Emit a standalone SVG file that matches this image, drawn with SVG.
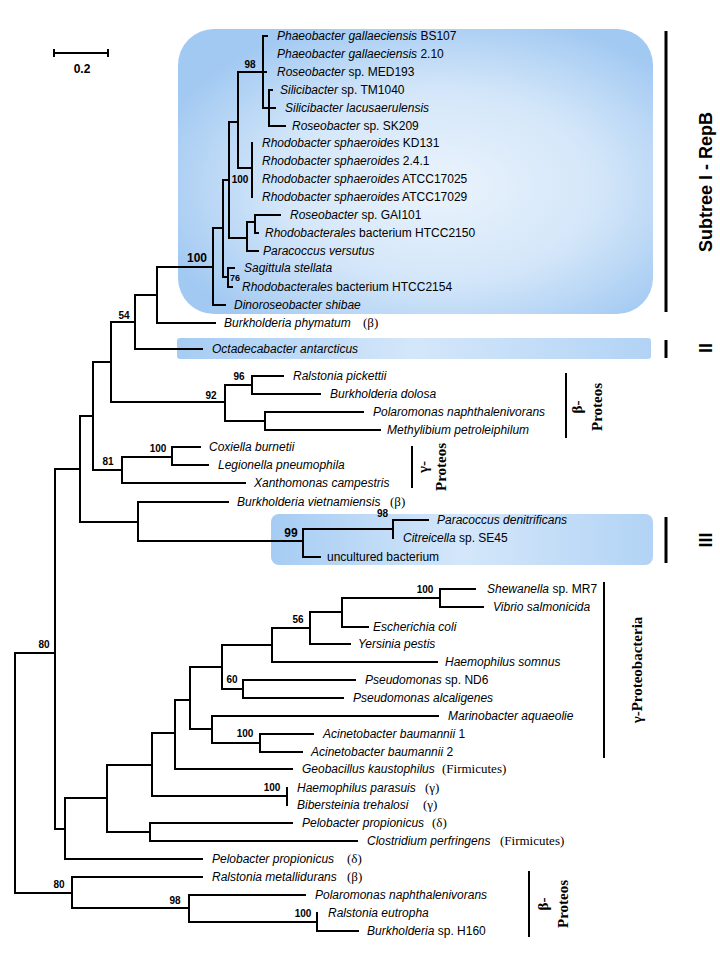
<svg xmlns="http://www.w3.org/2000/svg" width="720" height="960" viewBox="0 0 720 960">
<defs>
<radialGradient id="gI" cx="0.55" cy="0.55" r="0.62">
<stop offset="0" stop-color="#eaf3fc"/><stop offset="0.55" stop-color="#d3e6f9"/><stop offset="1" stop-color="#a2c9f2"/>
</radialGradient>
<linearGradient id="gB" x1="0" y1="0" x2="1" y2="0">
<stop offset="0" stop-color="#a6ccf3"/><stop offset="0.5" stop-color="#d4e7fa"/><stop offset="1" stop-color="#b2d3f5"/>
</linearGradient>
<style>
.t{stroke:#000;stroke-width:2;fill:none;stroke-linecap:square}
.bar{stroke:#000;stroke-width:3;fill:none}
.lb{font-family:"Liberation Sans",Arial,sans-serif;font-size:12px;fill:#000}
.i{font-style:italic}
.p{font-family:"Liberation Serif","Times New Roman",serif;font-size:13px;fill:#000}
.bs{font-family:"Liberation Sans",Arial,sans-serif;font-size:10px;font-weight:bold;fill:#000}
.bb{font-family:"Liberation Sans",Arial,sans-serif;font-size:12px;font-weight:bold;fill:#000}
.grp{font-family:"Liberation Serif","Times New Roman",serif;font-size:15px;font-weight:bold;fill:#000}
.sub{font-family:"Liberation Sans",Arial,sans-serif;font-size:18px;font-weight:bold;fill:#000}
</style>
</defs>
<rect width="720" height="960" fill="#fff"/>

<g id="clade-boxes">
<rect x="178" y="29" width="475" height="285" rx="36" fill="url(#gI)"/>
<rect x="177" y="338" width="474" height="21" rx="3" fill="url(#gB)"/>
<rect x="271" y="514" width="382" height="51" rx="8" fill="url(#gB)"/>
</g>

<g id="scale-bar">
<path class="t" d="M54,53 H108 M54,50 V56 M108,50 V56"/>
<text class="bb" x="82" y="73" text-anchor="middle">0.2</text>
</g>

<g id="connectors">
<path class="t" d="
M15,653 V893 M15,653 H55 M15,893 H72
M55,469 V829 M55,469 H80 M55,829 H65
M80,416 V522 M80,416 H93 M80,522 H138
M93,362 V470 M93,362 H111 M93,470 H122
M111,322 V402 M111,322 H135 M111,402 H225
M135,295 V349 M135,295 H157 M135,349 H202
M157,267 V323 M157,267 H213 M157,323 H215
M213,228 V305 M213,228 H223 M213,305 H225
M223,180 V277 M223,180 H229 M223,277 H228
M229,122 V238 M229,122 H238 M229,238 H247
M238,72 V168 M238,72 H263 M238,168 H252
M263,36 V108 M263,36 H267 M263,72 H266 M263,108 H269
M269,90 V126 M269,90 H272 M269,108 H275 M269,126 H285
M252,143 V197
M247,222 V251 M247,222 H255 M247,251 H258
M255,215 V233 M255,215 H280 M255,233 H258
M228,268 V287 M228,268 H234 M228,287 H232
M225,385 V421 M225,385 H252 M225,421 H265
M252,376 V394 M252,376 H283 M252,394 H320
M265,412 V430 M265,412 H363 M265,430 H380
M122,457 V483 M122,457 H172 M122,483 H245
M172,447 V465 M172,447 H200 M172,465 H208
M138,502 V541 M138,502 H228 M138,541 H303
M303,529 V557 M303,529 H393 M303,557 H320
M393,520 V538 M393,520 H428
M65,798 V859 M65,798 H107 M65,859 H202
M107,765 V832 M107,765 H152 M107,832 H150
M150,823 V841 M150,823 H292 M150,841 H357
M152,733 V796 M152,733 H175 M152,796 H287
M287,788 V805
M175,700 V769 M175,700 H190 M175,769 H292
M190,667 V729 M190,667 H222 M190,729 H212
M222,645 V689 M222,645 H272 M222,689 H243
M272,628 V662 M272,628 H310 M272,662 H437
M310,612 V644 M310,612 H342 M310,644 H350
M342,598 V627 M342,598 H440 M342,627 H368
M440,589 V607 M440,589 H475 M440,607 H483
M243,680 V698 M243,680 H355 M243,698 H343
M212,716 V743 M212,716 H438 M212,743 H260
M260,734 V752 M260,734 H313 M260,752 H302
M72,877 V908 M72,877 H202 M72,908 H189
M189,895 V922 M189,895 H305 M189,922 H317
M317,913 V931 M317,931 H358"/>
</g>

<g id="support-values">
<text class="bs" x="250" y="68" text-anchor="middle">98</text>
<text class="bs" x="240" y="183" text-anchor="middle">100</text>
<text class="bb" x="197" y="262" text-anchor="middle">100</text>
<text class="bs" x="235" y="281" text-anchor="middle" style="font-size:9px">76</text>
<text class="bs" x="124" y="319" text-anchor="middle">54</text>
<text class="bs" x="239" y="380" text-anchor="middle">96</text>
<text class="bs" x="211" y="399" text-anchor="middle">92</text>
<text class="bs" x="158" y="452" text-anchor="middle">100</text>
<text class="bs" x="108" y="465" text-anchor="middle">81</text>
<text class="bb" x="291" y="537" text-anchor="middle">99</text>
<text class="bs" x="388" y="517" text-anchor="end">98</text>
<text class="bs" x="425" y="593" text-anchor="middle">100</text>
<text class="bs" x="298" y="623" text-anchor="middle">56</text>
<text class="bs" x="232" y="683" text-anchor="middle">60</text>
<text class="bs" x="245" y="737" text-anchor="middle">100</text>
<text class="bs" x="44" y="648" text-anchor="middle">80</text>
<text class="bs" x="272" y="791" text-anchor="middle">100</text>
<text class="bs" x="59" y="888" text-anchor="middle">80</text>
<text class="bs" x="175" y="904" text-anchor="middle">98</text>
<text class="bs" x="303" y="917" text-anchor="middle">100</text>
</g>

<g id="leaves">
<g id="leaf-01"><text class="lb" x="277" y="40"><tspan class="i">Phaeobacter gallaeciensis</tspan> BS107</text></g>
<g id="leaf-02"><text class="lb" x="277" y="58"><tspan class="i">Phaeobacter gallaeciensis</tspan> 2.10</text></g>
<g id="leaf-03"><text class="lb" x="277" y="76"><tspan class="i">Roseobacter</tspan> sp. MED193</text></g>
<g id="leaf-04"><text class="lb" x="280" y="94"><tspan class="i">Silicibacter</tspan> sp. TM1040</text></g>
<g id="leaf-05"><text class="lb i" x="285" y="112">Silicibacter lacusaerulensis</text></g>
<g id="leaf-06"><text class="lb" x="292" y="130"><tspan class="i">Roseobacter</tspan> sp. SK209</text></g>
<g id="leaf-07"><text class="lb" x="262" y="147"><tspan class="i">Rhodobacter sphaeroides</tspan> KD131</text></g>
<g id="leaf-08"><text class="lb" x="262" y="165"><tspan class="i">Rhodobacter sphaeroides</tspan> 2.4.1</text></g>
<g id="leaf-09"><text class="lb" x="262" y="183"><tspan class="i">Rhodobacter sphaeroides</tspan> ATCC17025</text></g>
<g id="leaf-10"><text class="lb" x="262" y="201"><tspan class="i">Rhodobacter sphaeroides</tspan> ATCC17029</text></g>
<g id="leaf-11"><text class="lb" x="290" y="219"><tspan class="i">Roseobacter</tspan> sp. GAI101</text></g>
<g id="leaf-12"><text class="lb" x="265" y="237"><tspan class="i">Rhodobacterales</tspan> bacterium HTCC2150</text></g>
<g id="leaf-13"><text class="lb i" x="263" y="255">Paracoccus versutus</text></g>
<g id="leaf-14"><text class="lb i" x="244" y="272">Sagittula stellata</text></g>
<g id="leaf-15"><text class="lb" x="242" y="291"><tspan class="i">Rhodobacterales</tspan> bacterium HTCC2154</text></g>
<g id="leaf-16"><text class="lb i" x="234" y="309">Dinoroseobacter shibae</text></g>
<g id="leaf-17"><text class="lb i" x="224" y="327">Burkholderia phymatum</text><text class="p" x="363" y="327">(β)</text></g>
<g id="leaf-18"><text class="lb i" x="212" y="353">Octadecabacter antarcticus</text></g>
<g id="leaf-19"><text class="lb i" x="293" y="380">Ralstonia pickettii</text></g>
<g id="leaf-20"><text class="lb i" x="330" y="398">Burkholderia dolosa</text></g>
<g id="leaf-21"><text class="lb i" x="373" y="416">Polaromonas naphthalenivorans</text></g>
<g id="leaf-22"><text class="lb i" x="387" y="434">Methylibium petroleiphilum</text></g>
<g id="leaf-23"><text class="lb i" x="209" y="451">Coxiella burnetii</text></g>
<g id="leaf-24"><text class="lb i" x="218" y="469">Legionella pneumophila</text></g>
<g id="leaf-25"><text class="lb i" x="254" y="487">Xanthomonas campestris</text></g>
<g id="leaf-26"><text class="lb i" x="237" y="506">Burkholderia vietnamiensis</text><text class="p" x="390" y="506">(β)</text></g>
<g id="leaf-27"><text class="lb i" x="437" y="524">Paracoccus denitrificans</text></g>
<g id="leaf-28"><text class="lb" x="403" y="542"><tspan class="i">Citreicella</tspan> sp. SE45</text></g>
<g id="leaf-29"><text class="lb" x="327" y="561">uncultured bacterium</text></g>
<g id="leaf-30"><text class="lb" x="487" y="593"><tspan class="i">Shewanella</tspan> sp. MR7</text></g>
<g id="leaf-31"><text class="lb i" x="493" y="611">Vibrio salmonicida</text></g>
<g id="leaf-32"><text class="lb i" x="373" y="631">Escherichia coli</text></g>
<g id="leaf-33"><text class="lb i" x="358" y="648">Yersinia pestis</text></g>
<g id="leaf-34"><text class="lb i" x="445" y="666">Haemophilus somnus</text></g>
<g id="leaf-35"><text class="lb" x="365" y="684"><tspan class="i">Pseudomonas</tspan> sp. ND6</text></g>
<g id="leaf-36"><text class="lb i" x="353" y="702">Pseudomonas alcaligenes</text></g>
<g id="leaf-37"><text class="lb i" x="448" y="720">Marinobacter aquaeolie</text></g>
<g id="leaf-38"><text class="lb" x="323" y="738"><tspan class="i">Acinetobacter baumannii</tspan> 1</text></g>
<g id="leaf-39"><text class="lb" x="311" y="756"><tspan class="i">Acinetobacter baumannii</tspan> 2</text></g>
<g id="leaf-40"><text class="lb i" x="302" y="773">Geobacillus kaustophilus</text><text class="p" x="442" y="773">(Firmicutes)</text></g>
<g id="leaf-41"><text class="lb i" x="297" y="792">Haemophilus parasuis</text><text class="p" x="425" y="792">(γ)</text></g>
<g id="leaf-42"><text class="lb i" x="297" y="809">Bibersteinia trehalosi</text><text class="p" x="423" y="809">(γ)</text></g>
<g id="leaf-43"><text class="lb i" x="302" y="827">Pelobacter propionicus</text><text class="p" x="432" y="827">(δ)</text></g>
<g id="leaf-44"><text class="lb i" x="367" y="845">Clostridium perfringens</text><text class="p" x="500" y="845">(Firmicutes)</text></g>
<g id="leaf-45"><text class="lb i" x="212" y="863">Pelobacter propionicus</text><text class="p" x="347" y="863">(δ)</text></g>
<g id="leaf-46"><text class="lb i" x="212" y="881">Ralstonia metallidurans</text><text class="p" x="347" y="881">(β)</text></g>
<g id="leaf-47"><text class="lb i" x="315" y="899">Polaromonas naphthalenivorans</text></g>
<g id="leaf-48"><text class="lb i" x="328" y="917">Ralstonia eutropha</text></g>
<g id="leaf-49"><text class="lb" x="367" y="935"><tspan class="i">Burkholderia</tspan> sp. H160</text></g>
</g>

<g id="group-labels">
<path class="bar" d="M666,31 V312 M666,340 V358 M666,517 V563"/>
<text class="sub" transform="translate(712,182) rotate(-90)" text-anchor="middle">Subtree I - RepB</text>
<text class="sub" transform="translate(712,348) rotate(-90)" text-anchor="middle">II</text>
<text class="sub" transform="translate(712,540) rotate(-90)" text-anchor="middle">III</text>
<path class="t" d="M566,374 V437 M412,447 V487 M604,583 V757 M529,872 V936"/>
<text class="grp" transform="translate(582,407) rotate(-90)" text-anchor="middle">β-</text>
<text class="grp" transform="translate(602,407) rotate(-90)" text-anchor="middle">Proteos</text>
<text class="grp" transform="translate(428,467) rotate(-90)" text-anchor="middle">γ-</text>
<text class="grp" transform="translate(446,467) rotate(-90)" text-anchor="middle">Proteos</text>
<text class="grp" transform="translate(642,670) rotate(-90)" text-anchor="middle">γ-Proteobacteria</text>
<text class="grp" transform="translate(548,904) rotate(-90)" text-anchor="middle">β-</text>
<text class="grp" transform="translate(568,904) rotate(-90)" text-anchor="middle">Proteos</text>
</g>
</svg>
